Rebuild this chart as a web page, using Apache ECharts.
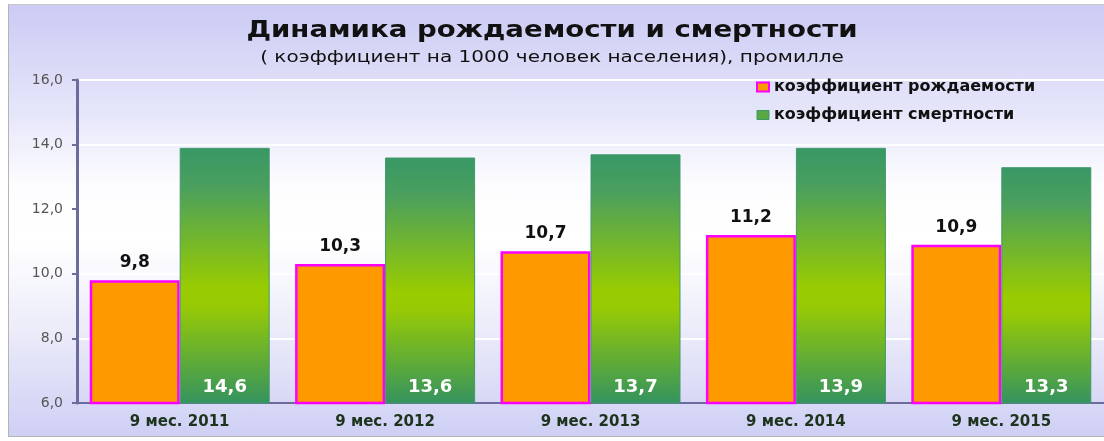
<!DOCTYPE html>
<html>
<head>
<meta charset="utf-8">
<script src="https://cdn.jsdelivr.net/npm/echarts@6/dist/echarts.min.js"></script>
<style>
  html, body { margin: 0; padding: 0; background: #fff; }
  .frame {
    position: absolute;
    left: 8px; top: 4px;
    width: 1100px; height: 431px;
    border-left: 1px solid #b4b4b4;
    border-top: 1px solid #c8c8c8;
    border-bottom: 1px solid #b4b4b4;
    background: linear-gradient(to bottom, #cbcbf5 0%, #e6e6fa 25%, #fdfdff 42%, #ffffff 55%, #ececfa 75%, #cfcff5 100%);
  }
  #chart { position: absolute; left: 0; top: 0; width: 1104px; height: 441px; }
</style>
</head>
<body>
<div class="frame"></div>
<div id="chart"></div>
<script>
const categories = ['9 мес. 2011', '9 мес. 2012', '9 мес. 2013', '9 мес. 2014', '9 мес. 2015'];
const birthValues = [9.8, 10.3, 10.7, 11.2, 10.9];
// bar heights as drawn; the labels are printed separately (first one differs in the source)
const deathValues = [13.9, 13.6, 13.7, 13.9, 13.3];
const deathLabels = ['14,6', '13,6', '13,7', '13,9', '13,3'];
const yTicks = [6, 8, 10, 12, 14, 16];

const fmt = v => v.toFixed(1).replace('.', ',');

const greenFill = new echarts.graphic.LinearGradient(0, 0, 0, 1, [
  { offset: 0, color: '#389865' },
  { offset: 0.15, color: '#4a9f5e' },
  { offset: 0.55, color: '#99cc00' },
  { offset: 0.62, color: '#97ca05' },
  { offset: 1, color: '#34935f' }
]);

const chart = echarts.init(document.getElementById('chart'));

chart.setOption({
  animation: false,
  textStyle: { fontFamily: 'DejaVu Sans' },
  graphic: [
    {
      type: 'text', x: 552, y: 20, scaleX: 1.2,
      style: {
        text: 'Динамика рождаемости и смертности',
        font: 'bold 23px "DejaVu Sans"', fill: '#111', align: 'center'
      }
    },
    {
      type: 'text', x: 552, y: 50, scaleX: 1.25,
      style: {
        text: '( коэффициент на 1000 человек населения), промилле',
        font: '16px "DejaVu Sans"', fill: '#111', align: 'center'
      }
    }
  ],
  legend: {
    orient: 'vertical',
    left: 751,
    top: 74,
    icon: 'rect',
    itemWidth: 12,
    itemHeight: 9,
    itemGap: 12,
    textStyle: { fontSize: 16, fontWeight: 'bold', color: '#111', fontFamily: 'DejaVu Sans' },
    data: [
      { name: 'коэффициент рождаемости', itemStyle: { color: '#ff9900', borderColor: '#ff00ff', borderWidth: 2 } },
      { name: 'коэффициент смертности', itemStyle: { color: '#5aa845', borderColor: '#3a9966', borderWidth: 1 } }
    ]
  },
  grid: { left: 77, top: 80, width: 1031, height: 323 },
  xAxis: {
    type: 'category',
    data: categories,
    axisLine: { lineStyle: { color: '#6b6b9e', width: 2 } },
    axisTick: { length: 4, lineStyle: { color: '#6b6b9e', width: 2 } },
    axisLabel: { fontSize: 15, fontWeight: 'bold', color: '#1c341c', margin: 12 }
  },
  yAxis: {
    type: 'value',
    min: yTicks[0],
    max: yTicks[yTicks.length - 1],
    interval: 2,
    axisLine: { show: true, lineStyle: { color: '#6b6b9e', width: 3 } },
    axisTick: { show: true, length: 5, lineStyle: { color: '#6b6b9e', width: 2 } },
    axisLabel: { fontSize: 14, color: '#555', margin: 14, formatter: v => fmt(v) },
    splitLine: { lineStyle: { color: '#ffffff', width: 2 } }
  },
  series: [
    {
      name: 'коэффициент рождаемости',
      type: 'bar',
      barWidth: 90,
      barGap: '0%',
      data: birthValues,
      itemStyle: { color: '#ff9900', borderColor: '#ff00ff', borderWidth: 2.5 },
      label: {
        show: true, position: 'top', distance: 9,
        fontSize: 17, fontWeight: 'bold', color: '#111',
        formatter: p => fmt(p.value)
      }
    },
    {
      name: 'коэффициент смертности',
      type: 'bar',
      barWidth: 90,
      data: deathValues,
      itemStyle: { color: greenFill, borderColor: '#43996c', borderWidth: 1 },
      label: {
        show: true, position: 'insideBottom', distance: 7,
        fontSize: 18, fontWeight: 'bold', color: '#ffffff',
        formatter: p => deathLabels[p.dataIndex]
      }
    }
  ]
});
</script>
</body>
</html>
